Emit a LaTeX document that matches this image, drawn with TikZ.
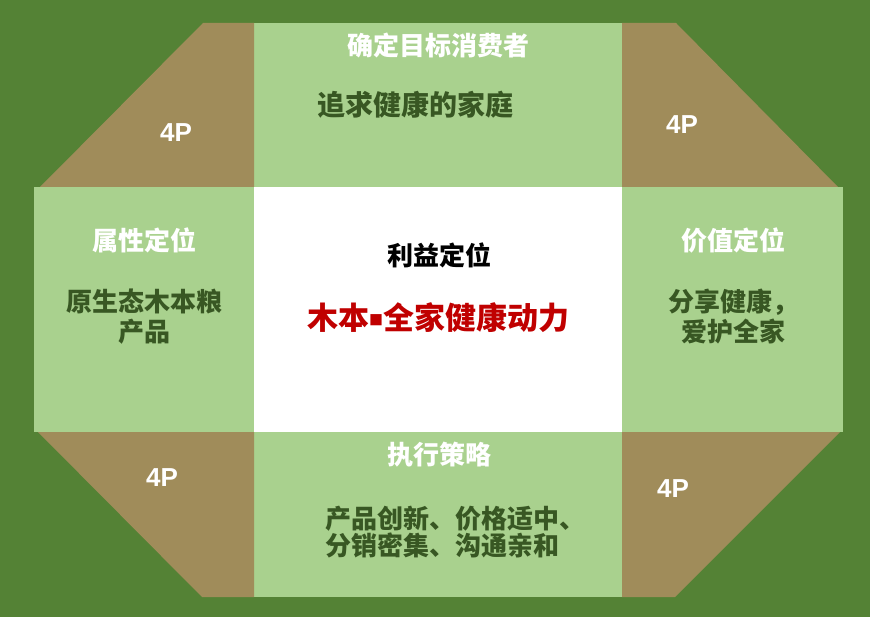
\documentclass[tikz,border=0pt]{standalone}
\usepackage{fontspec}
\setmainfont{Noto Sans CJK SC}
\newfontfamily\latinf{Liberation Sans}
\usetikzlibrary{positioning}
\definecolor{darkg}{HTML}{548235}
\definecolor{lightg}{HTML}{A9D18E}
\definecolor{olive}{HTML}{A08C5A}
\definecolor{textg}{HTML}{385723}
\definecolor{redt}{HTML}{C00000}

\begin{document}
\begin{tikzpicture}[x=1pt, y=-1pt,
  head/.style={text=white, font=\fontsize{26}{30}\selectfont\bfseries, inner sep=0pt},
  body/.style={text=textg, font=\fontsize{26}{30}\selectfont\bfseries, align=center, inner sep=0pt},
  pee/.style={text=white, font=\latinf\fontsize{26}{26}\selectfont\bfseries, inner sep=0pt}
]
  \fill[darkg] (0,0) rectangle (870,617);
  % panels
  \fill[lightg] (254,23) rectangle (622,187);
  \fill[lightg] (254,432) rectangle (622,597);
  \fill[lightg] (34,187) rectangle (254,432);
  \fill[lightg] (622,187) rectangle (843,432);
  \fill[white] (254,187) rectangle (622,432);
  % corners
  \fill[olive] (203,23) -- (254,23) -- (254,187) -- (40,187) -- cycle;
  \fill[olive] (622,23) -- (676,23) -- (838,187) -- (622,187) -- cycle;
  \fill[olive] (38,432) -- (254,432) -- (254,597) -- (202,597) -- cycle;
  \fill[olive] (622,432) -- (840,432) -- (675,597) -- (622,597) -- cycle;

  \node[head] (target) at (438,45) {确定目标消费者};
  \node[body, font=\fontsize{28}{32}\selectfont\bfseries] (family) at (415,105) {追求健康的家庭};

  \node[head] (attr) at (144,240) {属性定位};
  \node[body] (grain) at (144,317) {原生态木本粮\\产品};

  \node[head] (value) at (733,240) {价值定位};
  \node[body] (share) at (733,317) {分享健康，\\爱护全家};

  \node[head, text=black] (benefit) at (439,255) {利益定位};
  \node[body, text=redt, font=\fontsize{31}{36}\selectfont\bfseries] (slogan) at (438,318)
    {木本{\fontsize{14}{14}\selectfont\raisebox{0.55ex}{■}}全家健康动力};

  \node[head] (exec) at (439,455) {执行策略};
  \node[body, align=left, font=\fontsize{26}{25}\selectfont\bfseries, anchor=west] (plan) at (325,532)
    {产品创新、价格适中、\\分销密集、沟通亲和};

  \node[pee] (p1) at (176,133) {4P};
  \node[pee] (p2) at (682,125) {4P};
  \node[pee] (p3) at (162,478) {4P};
  \node[pee] (p4) at (673,489) {4P};
\end{tikzpicture}
\end{document}
